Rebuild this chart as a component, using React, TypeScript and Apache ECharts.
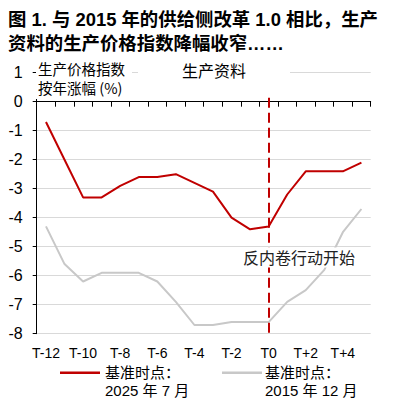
import React, { useEffect, useRef } from "react";
import * as echarts from "echarts";

const categories = [
  "T-12", "T-11", "T-10", "T-9", "T-8", "T-7", "T-6", "T-5", "T-4",
  "T-3", "T-2", "T-1", "T0", "T+1", "T+2", "T+3", "T+4", "T+5",
];
const base2025 = [-0.7, -2.0, -3.3, -3.3, -2.9, -2.6, -2.6, -2.5, -2.8, -3.1, -4.0, -4.4, -4.3, -3.2, -2.4, -2.4, -2.4, -2.1];
const base2015 = [-4.3, -5.6, -6.2, -5.9, -5.9, -5.9, -6.2, -6.9, -7.7, -7.7, -7.6, -7.6, -7.6, -6.9, -6.5, -5.8, -4.5, -3.7];
const yMin = -8;
const yMax = 1;
const eventCategory = "T0";

const RED = "#C00000";
const GRAY = "#C8C8C8";
const LATIN = "'Liberation Sans', Arial, 'Noto Sans CJK SC', sans-serif";
const CJK = "'Noto Sans CJK SC', 'Liberation Sans', sans-serif";

const GRID_TOP = 72.7;
const GRID_BOTTOM = 68.3;
const CHART_H = 402;

export default function App() {
  const ref = useRef<HTMLDivElement>(null);
  useEffect(() => {
    if (!ref.current) return;
    const chart = echarts.init(ref.current, null, { renderer: "svg" });
    const plotH = CHART_H - GRID_TOP - GRID_BOTTOM;
    const zeroOffset = -plotH * (0 - yMin) / (yMax - yMin);
    chart.setOption({
      animation: false,
      backgroundColor: "#fff",
      title: {
        text: "图 1. 与 2015 年的供给侧改革 1.0 相比，生产\n资料的生产价格指数降幅收窄……",
        left: 8,
        top: 7,
        padding: 0,
        textStyle: {
          fontFamily: LATIN,
          fontSize: 18.4,
          fontWeight: "bold",
          lineHeight: 24,
          color: "#000",
        },
      },
      grid: { left: 36.7, right: 25.3, top: GRID_TOP, bottom: GRID_BOTTOM },
      xAxis: [
        {
          type: "category",
          data: categories,
          position: "bottom",
          axisLine: { show: false, onZero: false },
          axisTick: { show: false },
          splitLine: { show: false },
          axisLabel: {
            interval: 1,
            fontSize: 14,
            margin: 12,
            color: "#000",
            fontFamily: LATIN,
          },
        },
        {
          type: "category",
          data: categories,
          position: "bottom",
          offset: zeroOffset,
          axisLine: { show: true, onZero: false, lineStyle: { color: "#000", width: 1 } },
          axisTick: { show: true, interval: 0, length: 5, lineStyle: { color: "#000" } },
          axisLabel: { show: false },
          splitLine: { show: false },
        },
      ],
      yAxis: {
        type: "value",
        min: yMin,
        max: yMax,
        interval: 1,
        axisLine: { show: true, onZero: false, lineStyle: { color: "#000", width: 1 } },
        axisTick: { show: true, length: 4, lineStyle: { color: "#000" } },
        splitLine: { show: true, lineStyle: { color: "#D9D9D9", width: 1 } },
        axisLabel: { fontSize: 16, margin: 14, color: "#000", fontFamily: LATIN },
      },
      series: [
        {
          name: "基准时点：2015 年 12 月",
          type: "line",
          xAxisIndex: 0,
          data: base2015,
          symbol: "none",
          lineStyle: { color: GRAY, width: 2 },
          itemStyle: { color: GRAY },
        },
        {
          name: "基准时点：2025 年 7 月",
          type: "line",
          xAxisIndex: 0,
          data: base2025,
          symbol: "none",
          lineStyle: { color: RED, width: 2 },
          itemStyle: { color: RED },
          markLine: {
            silent: true,
            symbol: "none",
            label: { show: false },
            lineStyle: { color: RED, width: 2, type: [10, 5] },
            data: [[{ coord: [eventCategory, 0.14] }, { coord: [eventCategory, yMin] }]],
          },
        },
      ],
      graphic: [
        { type: "rect", z: 100, shape: { x: 36, y: 58, width: 96, height: 41 }, style: { fill: "#fff" } },
        { type: "rect", z: 100, shape: { x: 138, y: 60, width: 152, height: 22 }, style: { fill: "#fff" } },
        {
          type: "text", z: 101, x: 38, y: 68,
          style: { text: "生产价格指数", fontSize: 14.5, fontFamily: CJK, fill: "#000", verticalAlign: "middle" },
        },
        {
          type: "text", z: 101, x: 38, y: 87,
          style: { text: "按年涨幅 (%)", fontSize: 14.5, fontFamily: CJK, fill: "#000", verticalAlign: "middle" },
        },
        {
          type: "text", z: 101, x: 182, y: 70,
          style: { text: "生产资料", fontSize: 16, fontFamily: CJK, fill: "#000", verticalAlign: "middle" },
        },
        { type: "rect", z: 100, shape: { x: 241, y: 247.5, width: 118, height: 20 }, style: { fill: "#fff" } },
        {
          type: "text", z: 101, x: 299, y: 257,
          style: { text: "反内卷行动开始", fontSize: 16, fontFamily: CJK, fill: "#222", align: "center", verticalAlign: "middle" },
        },
        { type: "line", z: 101, shape: { x1: 60, y1: 372.7, x2: 100, y2: 372.7 }, style: { stroke: RED, lineWidth: 2.5 } },
        {
          type: "text", z: 101, x: 105, y: 372.7,
          style: { text: "基准时点：", fontSize: 15, fontFamily: LATIN, fill: "#000", verticalAlign: "middle" },
        },
        {
          type: "text", z: 101, x: 105, y: 390,
          style: { text: "2025 年 7 月", fontSize: 15, fontFamily: LATIN, fill: "#000", verticalAlign: "middle" },
        },
        { type: "line", z: 101, shape: { x1: 222, y1: 372.7, x2: 262, y2: 372.7 }, style: { stroke: GRAY, lineWidth: 2.5 } },
        {
          type: "text", z: 101, x: 265, y: 372.7,
          style: { text: "基准时点：", fontSize: 15, fontFamily: LATIN, fill: "#000", verticalAlign: "middle" },
        },
        {
          type: "text", z: 101, x: 265, y: 390,
          style: { text: "2015 年 12 月", fontSize: 15, fontFamily: LATIN, fill: "#000", verticalAlign: "middle" },
        },
      ],
    });
    return () => chart.dispose();
  }, []);
  return (
    <div
      ref={ref}
      style={{ position: "fixed", left: 0, top: 0, width: 396, height: 402 }}
    />
  );
}
